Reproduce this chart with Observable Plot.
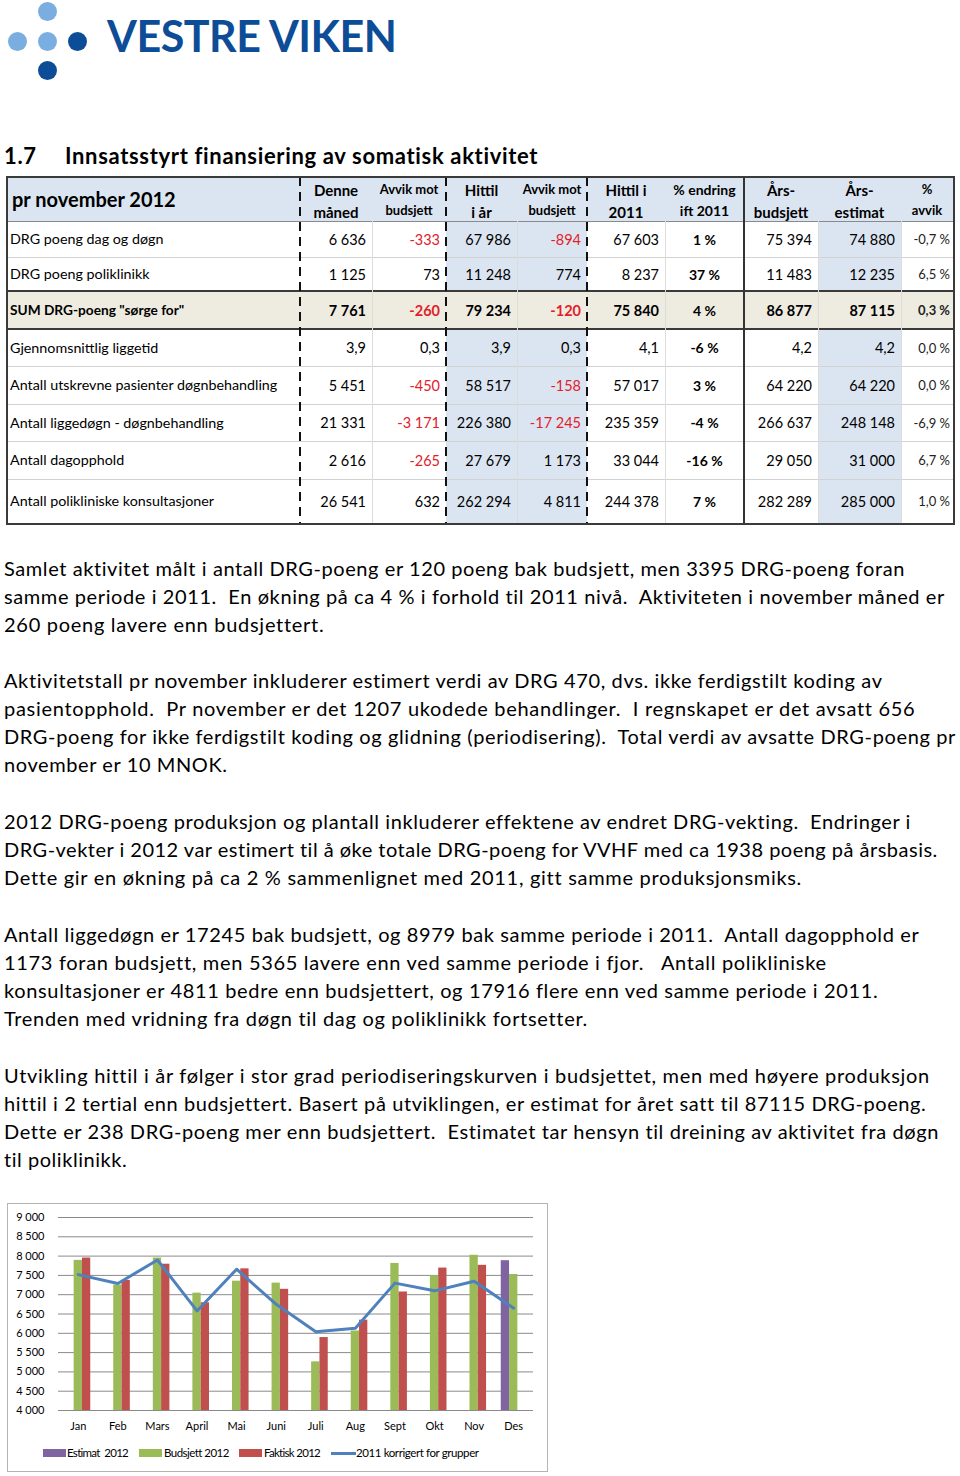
<!DOCTYPE html>
<html><head><meta charset="utf-8">
<script src="https://cdn.jsdelivr.net/npm/d3@7"></script>
<script src="https://cdn.jsdelivr.net/npm/@observablehq/plot@0.6"></script>
<style>
body{margin:0;background:#fff;font-family:Lato,"Open Sans",sans-serif;color:#000;}
#page{position:relative;width:960px;height:1476px;overflow:hidden;background:#fff;}
.fit{white-space:nowrap;display:inline-block;}
.cell{position:absolute;display:flex;align-items:center;box-sizing:border-box;white-space:nowrap;}
</style></head><body><div id="page"></div>
<script>
// ---------------- DATA ----------------
const months = ["Jan","Feb","Mars","April","Mai","Juni","Juli","Aug","Sept","Okt","Nov","Des"];
const estimat2012 = [null,null,null,null,null,null,null,null,null,null,null,7881];
const budsjett2012 = [7890,7250,7950,7040,7350,7300,5260,6060,7810,7490,8021,7523];
const faktisk2012 = [7950,7370,7790,6790,7670,7140,5890,6340,7070,7690,7761,null];
const korrigert2011 = [7520,7290,7900,6580,7660,6750,6040,6130,7300,7100,7350,6650];
const yTicks = [4000,4500,5000,5500,6000,6500,7000,7500,8000,8500,9000];
const seriesNames = ["Estimat  2012","Budsjett 2012","Faktisk 2012","2011 korrigert for grupper"];
const seriesColors = ["#8064a2","#9bbb59","#c0504d","#4f81bd"];

const rowLabels = ["DRG poeng dag og døgn","DRG poeng poliklinikk",'SUM DRG-poeng "sørge for"',"Gjennomsnittlig liggetid","Antall utskrevne pasienter døgnbehandling","Antall liggedøgn - døgnbehandling","Antall dagopphold","Antall polikliniske konsultasjoner"];
const denneMaaned = ["6 636","1 125","7 761","3,9","5 451","21 331","2 616","26 541"];
const avvikMaaned = ["-333","73","-260","0,3","-450","-3 171","-265","632"];
const hittilIAar = ["67 986","11 248","79 234","3,9","58 517","226 380","27 679","262 294"];
const avvikHittil = ["-894","774","-120","0,3","-158","-17 245","1 173","4 811"];
const hittil2011 = ["67 603","8 237","75 840","4,1","57 017","235 359","33 044","244 378"];
const endring2011 = ["1 %","37 %","4 %","-6 %","3 %","-4 %","-16 %","7 %"];
const aarsBudsjett = ["75 394","11 483","86 877","4,2","64 220","266 637","29 050","282 289"];
const aarsEstimat = ["74 880","12 235","87 115","4,2","64 220","248 148","31 000","285 000"];
const avvikPct = ["-0,7 %","6,5 %","0,3 %","0,0 %","0,0 %","-6,9 %","6,7 %","1,0 %"];
const colHeaders = [["pr november 2012"],["Denne","måned"],["Avvik mot","budsjett"],["Hittil","i år"],["Avvik mot","budsjett"],["Hittil i","2011"],["% endring","ift 2011"],["Års-","budsjett"],["Års-","estimat"],["%","avvik"]];

const paragraphs = [
  ["Samlet aktivitet målt i antall DRG-poeng er 120 poeng bak budsjett, men 3395 DRG-poeng foran",
   "samme periode i 2011.  En økning på ca 4 % i forhold til 2011 nivå.  Aktiviteten i november måned er",
   "260 poeng lavere enn budsjettert."],
  ["Aktivitetstall pr november inkluderer estimert verdi av DRG 470, dvs. ikke ferdigstilt koding av",
   "pasientopphold.  Pr november er det 1207 ukodede behandlinger.  I regnskapet er det avsatt 656",
   "DRG-poeng for ikke ferdigstilt koding og glidning (periodisering).  Total verdi av avsatte DRG-poeng pr",
   "november er 10 MNOK."],
  ["2012 DRG-poeng produksjon og plantall inkluderer effektene av endret DRG-vekting.  Endringer i",
   "DRG-vekter i 2012 var estimert til å øke totale DRG-poeng for VVHF med ca 1938 poeng på årsbasis.",
   "Dette gir en økning på ca 2 % sammenlignet med 2011, gitt samme produksjonsmiks."],
  ["Antall liggedøgn er 17245 bak budsjett, og 8979 bak samme periode i 2011.  Antall dagopphold er",
   "1173 foran budsjett, men 5365 lavere enn ved samme periode i fjor.   Antall polikliniske",
   "konsultasjoner er 4811 bedre enn budsjettert, og 17916 flere enn ved samme periode i 2011.",
   "Trenden med vridning fra døgn til dag og poliklinikk fortsetter."],
  ["Utvikling hittil i år følger i stor grad periodiseringskurven i budsjettet, men med høyere produksjon",
   "hittil i 2 tertial enn budsjettert. Basert på utviklingen, er estimat for året satt til 87115 DRG-poeng.",
   "Dette er 238 DRG-poeng mer enn budsjettert.  Estimatet tar hensyn til dreining av aktivitet fra døgn",
   "til poliklinikk."]
];

// ---------------- LAYOUT ----------------
const page = document.getElementById("page");
function el(tag, css, html){const e=document.createElement(tag);e.style.cssText=css;if(html!==undefined)e.innerHTML=html;page.appendChild(e);return e;}
function fit(e, w){const cur=e.getBoundingClientRect().width;const n=Math.max(1,e.textContent.length-1);e.style.letterSpacing=((w-cur)/n)+"px";}

// logo
[[47.7,11.7,"#7aaee0"],[17.5,41.7,"#7aaee0"],[47.7,41.7,"#7aaee0"],[77.3,41.7,"#0d4c97"],[47.7,70.5,"#0d4c97"]].forEach(([cx,cy,c])=>{
  el("div",`position:absolute;left:${cx-9.7}px;top:${cy-9.7}px;width:19.4px;height:19.4px;border-radius:50%;background:${c};`);
});
const logo = el("div","position:absolute;left:107px;top:8px;font-weight:700;font-size:43px;line-height:56px;color:#0d4c97;white-space:nowrap;","VESTRE VIKEN");
logo.className="fit"; fit(logo,290);

// heading
const h1 = el("div","position:absolute;left:4px;top:141px;font-weight:700;font-size:22px;line-height:30px;white-space:nowrap;","1.7"); h1.className="fit"; fit(h1,32);
const h2 = el("div","position:absolute;left:65px;top:141px;font-weight:700;font-size:22px;line-height:30px;white-space:nowrap;","Innsatsstyrt finansiering av somatisk aktivitet"); h2.className="fit"; fit(h2,473);

// table
const colX=[7,300,372,446,517,587,665,744,818,901,953];
const rowY=[177,221,257,291,329,366,404,441,479,523];
el("div",`position:absolute;left:7px;top:177px;width:946px;height:44px;background:#dbe5f1;`);
for(let r=0;r<8;r++){
  const y0=rowY[r+1], y1=rowY[r+2];
  if(r===2){el("div",`position:absolute;left:7px;top:${y0}px;width:946px;height:${y1-y0}px;background:#eeece1;`);continue;}
  el("div",`position:absolute;left:446px;top:${y0}px;width:141px;height:${y1-y0}px;background:#dbe5f1;`);
  el("div",`position:absolute;left:818px;top:${y0}px;width:83px;height:${y1-y0}px;background:#dbe5f1;`);
}
for(let i=1;i<rowY.length-1;i++){
  const dark = (i===3||i===4);
  el("div",`position:absolute;left:7px;top:${rowY[i]-(dark?1:0.5)}px;width:946px;height:${dark?2:1}px;background:${dark?"#3a3a3a":(i===1?"#8a8a8a":"#d2d2d2")};`);
}
[372,517,665,818,901].forEach(x=>el("div",`position:absolute;left:${x}px;top:221px;width:1px;height:302px;background:#dcdcdc;`));
el("div",`position:absolute;left:743px;top:177px;width:2px;height:346px;background:#333;`);
[300,446,587].forEach(x=>el("div",`position:absolute;left:${x-1}px;top:177px;width:2px;height:346px;background:repeating-linear-gradient(to bottom,#111 0 9px,transparent 9px 15px);`));
el("div",`position:absolute;left:6px;top:176px;width:945px;height:345px;border:2px solid #3a3a3a;`);

colHeaders.forEach((lines,c)=>{
  const x0=colX[c], x1=colX[c+1];
  if(c===0){
    el("div",`position:absolute;left:12px;top:177px;height:44px;line-height:44px;font-weight:700;font-size:20px;white-space:nowrap;`,lines[0]);
    return;
  }
  const big = [1,3,5,7,8].includes(c);
  const fs = big?15:(c===6?14:13);
  el("div",`position:absolute;left:${x0}px;top:179px;width:${x1-x0}px;text-align:center;font-weight:700;font-size:${fs}px;line-height:${big?22:21}px;white-space:nowrap;`,lines.join("<br>"));
});
const cols=[denneMaaned,avvikMaaned,hittilIAar,avvikHittil,hittil2011,endring2011,aarsBudsjett,aarsEstimat,avvikPct];
for(let r=0;r<8;r++){
  const y0=rowY[r+1], y1=rowY[r+2];
  const bold = r===2;
  el("div",`position:absolute;left:10px;top:${y0}px;height:${y1-y0}px;line-height:${y1-y0}px;font-size:${bold?13.7:14.3}px;font-weight:${bold?700:400};white-space:nowrap;`,rowLabels[r]);
  cols.forEach((arr,k)=>{
    const c=k+1, x0=colX[c], x1=colX[c+1];
    const v=arr[r];
    const red=(k===1||k===3)&&v.startsWith("-");
    let css=`left:${x0}px;top:${y0}px;width:${x1-x0}px;height:${y1-y0}px;`;
    if(k===5){css+=`justify-content:center;font-size:14px;font-weight:700;`;}
    else if(k===8){css+=`justify-content:flex-end;padding-right:3px;font-size:13px;font-weight:${bold?700:400};color:#222;`;}
    else {css+=`justify-content:flex-end;padding-right:6px;font-size:14.5px;font-weight:${bold?700:400};`;}
    if(red) css+="color:#e3202a;";
    const d=el("div",css,v); d.className="cell";
  });
}

// paragraphs
const paraTop=[568,680,821,934,1075];
const paraEls=[];
paragraphs.forEach((lines,p)=>{
  lines.forEach((t,i)=>{
    const yc=paraTop[p]+i*28.1;
    const d=el("div",`position:absolute;left:4px;top:${yc-14}px;font-size:20px;line-height:28px;white-space:pre;`,t);
    d.className="fit"; paraEls.push(d);
  });
});
const lineRight=[904,945,323, 883,914,955,227, 910,938,800, 918,825,877,587, 928,925,938,127];
paraEls.forEach((d,i)=>fit(d,lineRight[i]-4));

// ---------------- CHART ----------------
const box = el("div","position:absolute;left:7px;top:1203px;width:539px;height:267px;border:1px solid #b4b4b4;background:#fff;");
const W=539, ML=50, MR=14, MT=13, MB=30, H=236;
const B=(W-ML-MR)/months.length, bw=8.3;
const barSeries=[estimat2012,budsjett2012,faktisk2012];
const barMarks = barSeries.map((vals,k)=>{
  const rows = months.map((m,i)=>({month:m,value:vals[i]})).filter(d=>d.value!=null);
  const off=(k-1)*bw;
  return Plot.barY(rows,{x:"month",y:"value",fill:seriesColors[k],clip:true,
    insetLeft:(B-bw)/2+off, insetRight:(B-bw)/2-off});
});
const lineRows = months.map((m,i)=>({month:m,value:korrigert2011[i]}));
const fmt = d=>d3.format(",")(d).replace(/,/g," ");
const chart = Plot.plot({
  width:W,height:H,marginLeft:ML,marginRight:MR,marginTop:MT,marginBottom:MB,
  style:{fontFamily:"Lato, sans-serif",fontSize:"11px",color:"#000",background:"transparent"},
  x:{type:"band",domain:months,padding:0,round:false},
  y:{domain:[4000,9000]},
  marks:[
    Plot.ruleY(yTicks,{stroke:"#8a8a8a",strokeWidth:1}),
    ...barMarks,
    Plot.line(lineRows,{x:"month",y:"value",stroke:seriesColors[3],strokeWidth:3}),
    Plot.axisY(yTicks,{tickSize:0,tickPadding:14,tickFormat:fmt,label:null}),
    Plot.axisX({tickSize:0,tickPadding:12,label:null})
  ]
});
chart.style.position="absolute";chart.style.left="0px";chart.style.top="0px";
box.appendChild(chart);
const legPos=[[35,59,62],[131,156,65],[231,256,57],[323,348,123]];
seriesNames.forEach((name,k)=>{
  const [sx,tx,tw]=legPos[k];
  const sw=document.createElement("div");
  sw.style.cssText = k<3 ? `position:absolute;left:${sx}px;top:245px;width:23px;height:8px;background:${seriesColors[k]};`
                         : `position:absolute;left:${sx}px;top:248px;width:25px;height:3px;background:${seriesColors[k]};`;
  box.appendChild(sw);
  const t=document.createElement("div");
  t.className="fit";
  t.style.cssText=`position:absolute;left:${tx}px;top:241px;font-size:11.5px;line-height:16px;white-space:pre;`;
  t.textContent=name; box.appendChild(t); fit(t,tw);
});
</script></body></html>
